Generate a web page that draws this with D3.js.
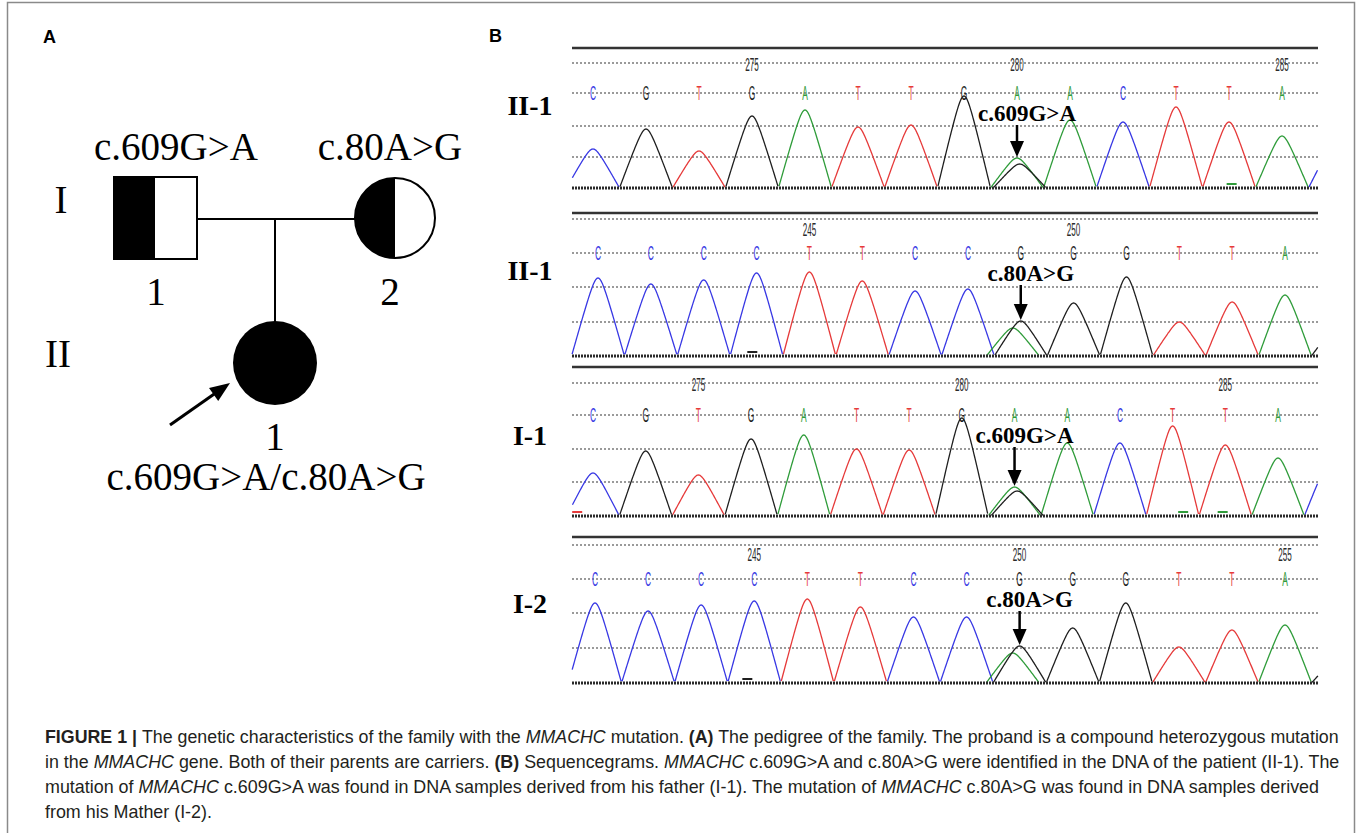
<!DOCTYPE html>
<html>
<head>
<meta charset="utf-8">
<script src="https://cdn.jsdelivr.net/npm/d3@7"></script>
<style>
  body { margin: 0; background: #fff; }
  svg { display: block; }
</style>
</head>
<body>
<svg id="fig"></svg>
<script>
// ---------- data ----------
// peak heights are in trace units above the baseline
const II1_A_BASES   = ["C","G","T","G","A","T","T","G","A","A","C","T","T","A"];
const II1_A_HEIGHTS = [39, 59, 37, 72, 78, 61, 63, 92, 30, 68, 66, 81, 66, 52];
const II1_A_TICKS   = ["275", "280", "285"];
const II1_A_TICK_AT = [3, 8, 13];

const II1_B_BASES   = ["C","C","C","C","T","T","C","C","G","G","G","T","T","A"];
const II1_B_HEIGHTS = [78, 72, 76, 83, 84, 75, 65, 67, 35, 53, 79, 34, 54, 61];
const II1_B_TICKS   = ["245", "250"];
const II1_B_TICK_AT = [4, 9];

const I1_BASES   = ["C","G","T","G","A","T","T","G","A","A","C","T","T","A"];
const I1_HEIGHTS = [43, 65, 41, 77, 81, 67, 66, 98, 29, 73, 73, 90, 71, 58];
const I1_TICKS   = ["275", "280", "285"];
const I1_TICK_AT = [2, 7, 12];

const I2_BASES   = ["C","C","C","C","T","T","C","C","G","G","G","T","T","A"];
const I2_HEIGHTS = [80, 72, 78, 82, 84, 76, 66, 66, 37, 55, 80, 36, 53, 58];
const I2_TICKS   = ["245", "250", "255"];
const I2_TICK_AT = [3, 8, 13];

// second (heterozygous) peak under the mutated base: [index, base, height, shift]
const II1_A_SECOND = [8, "G", 24, 0.05];
const II1_B_SECOND = [8, "A", 28, -0.15];
const I1_SECOND    = [8, "G", 25, 0.05];
const I2_SECOND    = [8, "A", 30, -0.13];

// peak that just enters at the right edge: [base, height]
const II1_A_TAIL = ["C", 44];
const II1_B_TAIL = ["G", 30];
const I1_TAIL    = ["C", 55];
const I2_TAIL    = ["G", 25];

// little quality marks on the baseline: [position, base]
const II1_A_MARKS = [[12.05, "A"]];
const II1_B_MARKS = [[2.92, "G"]];
const I1_MARKS    = [[-0.3, "T"], [11.2, "A"], [11.95, "A"]];
const I2_MARKS    = [[2.87, "G"]];

const SAMPLE_LABELS   = ["II-1", "II-1", "I-1", "I-2"];
const MUTATION_LABELS = ["c.609G>A", "c.80A>G", "c.609G>A", "c.80A>G"];

const BASE_COLORS = { A: "#2f9c3a", C: "#3838e4", G: "#1f1f1f", T: "#e63a3a" };

// ---------- layout ----------
const W = 1357, H = 833;
const svg = d3.select("#fig").attr("width", W).attr("height", H);
const serif = "'Liberation Serif', 'Times New Roman', serif";
const sans = "'Liberation Sans', Arial, sans-serif";

// outer frame
svg.append("rect")
  .attr("x", 7.5).attr("y", 2.5).attr("width", 1347).attr("height", 850)
  .attr("fill", "none").attr("stroke", "#8a8a8a").attr("stroke-width", 1.5);

// panel letters
svg.append("text").attr("x", 43).attr("y", 43).text("A")
  .attr("font-family", sans).attr("font-weight", "bold").attr("font-size", 18);
svg.append("text").attr("x", 489).attr("y", 42).text("B")
  .attr("font-family", sans).attr("font-weight", "bold").attr("font-size", 18);

/********* PANEL A : pedigree *********/
const ped = svg.append("g");
// father, half filled square
ped.append("rect").attr("x", 114).attr("y", 177).attr("width", 41).attr("height", 82).attr("fill", "#000");
ped.append("rect").attr("x", 114).attr("y", 177).attr("width", 83).attr("height", 82)
  .attr("fill", "none").attr("stroke", "#000").attr("stroke-width", 2);
// mother, half filled circle
ped.append("circle").attr("cx", 395).attr("cy", 218).attr("r", 40)
  .attr("fill", "#fff").attr("stroke", "#000").attr("stroke-width", 2);
ped.append("path").attr("d", d3.arc()({ innerRadius: 0, outerRadius: 40, startAngle: Math.PI, endAngle: 2 * Math.PI }))
  .attr("transform", "translate(395,218)").attr("fill", "#000");
// marriage + descent lines
ped.append("line").attr("x1", 197).attr("y1", 219).attr("x2", 355).attr("y2", 219)
  .attr("stroke", "#000").attr("stroke-width", 2);
ped.append("line").attr("x1", 275).attr("y1", 219).attr("x2", 275).attr("y2", 322)
  .attr("stroke", "#000").attr("stroke-width", 2);
// proband
ped.append("circle").attr("cx", 275).attr("cy", 363).attr("r", 42).attr("fill", "#000");
// proband arrow
(function () {
  const x0 = 170, y0 = 425, x1 = 230, y1 = 383;
  const dx = x1 - x0, dy = y1 - y0, len = Math.hypot(dx, dy);
  const ux = dx / len, uy = dy / len, head = 20, hw = 8;
  const bx = x1 - ux * head, by = y1 - uy * head;
  ped.append("line").attr("x1", x0).attr("y1", y0).attr("x2", bx + ux * 2).attr("y2", by + uy * 2)
    .attr("stroke", "#000").attr("stroke-width", 3);
  ped.append("path")
    .attr("d", `M${x1},${y1}L${bx - uy * hw},${by + ux * hw}L${bx + uy * hw},${by - ux * hw}Z`)
    .attr("fill", "#000");
})();

const pedTexts = [
  ["c.609G>A", 176, 160],
  ["c.80A>G", 390, 160],
  ["I", 61, 213],
  ["1", 156, 305],
  ["2", 390, 305],
  ["II", 58, 367],
  ["1", 275, 450],
  ["c.609G>A/c.80A>G", 266, 490]
];
ped.selectAll("text.ped").data(pedTexts).enter().append("text")
  .attr("x", d => d[1]).attr("y", d => d[2]).attr("text-anchor", "middle")
  .attr("font-family", serif).attr("font-size", 39).text(d => d[0]);

/********* PANEL B : sequencegrams *********/
const strips = [
  { bases: II1_A_BASES, heights: II1_A_HEIGHTS, ticks: II1_A_TICKS, tickAt: II1_A_TICK_AT, second: II1_A_SECOND, tail: II1_A_TAIL, marks: II1_A_MARKS,
    top: 48, d1: 63, tickY: 65, row: 93, d3: 126, d4: 157, base: 188, first: 593, last: 1282, labelY: 115 },
  { bases: II1_B_BASES, heights: II1_B_HEIGHTS, ticks: II1_B_TICKS, tickAt: II1_B_TICK_AT, second: II1_B_SECOND, tail: II1_B_TAIL, marks: II1_B_MARKS,
    top: 213, d1: 219, tickY: 230, row: 253, d3: 287, d4: 322, base: 356, first: 598, last: 1285, labelY: 280 },
  { bases: I1_BASES, heights: I1_HEIGHTS, ticks: I1_TICKS, tickAt: I1_TICK_AT, second: I1_SECOND, tail: I1_TAIL, marks: I1_MARKS,
    top: 367, d1: 383, tickY: 385, row: 415, d3: 449, d4: 482, base: 516, first: 593, last: 1278, labelY: 445 },
  { bases: I2_BASES, heights: I2_HEIGHTS, ticks: I2_TICKS, tickAt: I2_TICK_AT, second: I2_SECOND, tail: I2_TAIL, marks: I2_MARKS,
    top: 537, d1: 545, tickY: 555, row: 579, d3: 613, d4: 648, base: 683, first: 595, last: 1285, labelY: 613 }
];
const X0 = 572, X1 = 1318;

// peak shape: nearly straight flanks, rounded top, zero half a base away
const C_ROUND = 0.2;
const P_NORM = Math.sqrt(1 + C_ROUND * C_ROUND) - C_ROUND;
function peak(h, d) {
  const u = Math.abs(2 * d);
  if (u >= 1) return 0;
  return h * (Math.sqrt(1 + C_ROUND * C_ROUND) - Math.sqrt(u * u + C_ROUND * C_ROUND)) / P_NORM;
}

function drawStrip(s, k) {
  const g = svg.append("g");
  const x = d3.scaleLinear().domain([0, s.bases.length - 1]).range([s.first, s.last]);
  const y = d3.scaleLinear().domain([0, 100]).range([s.base, s.base - 100]);

  // frame lines
  g.append("line").attr("x1", X0).attr("x2", X1).attr("y1", s.top).attr("y2", s.top)
    .attr("stroke", "#333").attr("stroke-width", 2.5);
  [s.d1, s.row, s.d3, s.d4].forEach(yy => {
    g.append("line").attr("x1", X0).attr("x2", X1).attr("y1", yy).attr("y2", yy)
      .attr("stroke", "#7a7a7a").attr("stroke-width", 1.3).attr("stroke-dasharray", "2,2");
  });

  // position numbers
  s.ticks.forEach((t, i) => {
    g.append("text")
      .attr("transform", `translate(${x(s.tickAt[i])},${s.tickY + 6}) scale(0.45,1)`)
      .attr("text-anchor", "middle").attr("font-family", sans).attr("font-size", 18)
      .attr("fill", "#2a2a2a").text(t);
  });

  // base calls
  s.bases.forEach((b, i) => {
    g.append("text")
      .attr("transform", `translate(${x(i)},${s.row + 7}) scale(0.42,1)`)
      .attr("text-anchor", "middle").attr("font-family", sans).attr("font-size", 20)
      .attr("fill", BASE_COLORS[b]).text(b);
  });

  // traces: one per channel
  const n = s.bases.length;
  const samples = d3.range(-0.7, n + 0.01, 0.01).filter(t => x(t) >= X0 && x(t) <= X1);
  ["C", "T", "A", "G"].forEach(ch => {
    const pts = samples.map(t => {
      let v = 0;
      s.bases.forEach((b, i) => { if (b === ch) v += peak(s.heights[i], t - i); });
      if (s.second[1] === ch) v += peak(s.second[2], t - s.second[0] - s.second[3]);
      if (s.tail[0] === ch) v += peak(s.tail[1], t - n);
      return { t, v };
    });
    g.append("path").datum(pts)
      .attr("d", d3.line().defined(d => d.v > 0.2).x(d => x(d.t)).y(d => y(d.v)))
      .attr("fill", "none").attr("stroke", BASE_COLORS[ch]).attr("stroke-width", 1.3);
  });

  // quality marks
  s.marks.forEach(m => {
    g.append("line").attr("x1", x(m[0]) - 5).attr("x2", x(m[0]) + 5)
      .attr("y1", s.base - 4).attr("y2", s.base - 4)
      .attr("stroke", BASE_COLORS[m[1]]).attr("stroke-width", 2);
  });

  // baseline
  g.append("line").attr("x1", X0).attr("x2", X1).attr("y1", s.base).attr("y2", s.base)
    .attr("stroke", "#2a2a2a").attr("stroke-width", 3).attr("stroke-dasharray", "2,1");

  // sample label
  g.append("text").attr("x", 530).attr("y", s.labelY).attr("text-anchor", "middle")
    .attr("font-family", serif).attr("font-weight", "bold").attr("font-size", 28)
    .text(SAMPLE_LABELS[k]);

  // mutation label + arrow
  const mi = s.second[0];
  const tipX = x(mi), tipY = y(Math.max(s.heights[mi], s.second[2])) - 1;
  const textY = s.row + 28;
  g.append("text").attr("x", tipX + 10).attr("y", textY).attr("text-anchor", "middle")
    .attr("font-family", serif).attr("font-weight", "bold").attr("font-size", 23)
    .text(MUTATION_LABELS[k]);
  g.append("line").attr("x1", tipX).attr("x2", tipX).attr("y1", textY + 4).attr("y2", tipY - 14)
    .attr("stroke", "#000").attr("stroke-width", 2.5);
  g.append("path")
    .attr("d", `M${tipX},${tipY}L${tipX - 7},${tipY - 16}L${tipX + 7},${tipY - 16}Z`)
    .attr("fill", "#000");
}
strips.forEach(drawStrip);

/********* caption *********/
const captionLines = [
  [["FIGURE 1 | ", "b"], ["The genetic characteristics of the family with the ", ""], ["MMACHC", "i"],
   [" mutation. ", ""], ["(A)", "b"], [" The pedigree of the family. The proband is a compound heterozygous mutation", ""]],
  [["in the ", ""], ["MMACHC", "i"], [" gene. Both of their parents are carriers. ", ""], ["(B)", "b"],
   [" Sequencegrams. ", ""], ["MMACHC", "i"], [" c.609G>A and c.80A>G were identified in the DNA of the patient (II-1). The", ""]],
  [["mutation of ", ""], ["MMACHC", "i"], [" c.609G>A was found in DNA samples derived from his father (I-1). The mutation of ", ""],
   ["MMACHC", "i"], [" c.80A>G was found in DNA samples derived", ""]],
  [["from his Mather (I-2).", ""]]
];
const captionWidths = [1295, 1295, 1275, null];
const captionY = [743, 768, 793, 818];
let lastScale = 1;
captionLines.forEach((segs, i) => {
  const t = svg.append("text")
    .attr("font-family", "'Liberation Sans Narrow', 'Liberation Sans', Arial, sans-serif")
    .attr("font-size", 18.5).attr("fill", "#231f20");
  segs.forEach(s => {
    t.append("tspan").text(s[0])
      .attr("font-weight", s[1] === "b" ? "bold" : null)
      .attr("font-style", s[1] === "i" ? "italic" : null);
  });
  const natural = t.node().getComputedTextLength();
  const sc = captionWidths[i] ? captionWidths[i] / natural : lastScale;
  lastScale = sc;
  t.attr("transform", `translate(45,${captionY[i]}) scale(${sc},1)`);
});
</script>
</body>
</html>
